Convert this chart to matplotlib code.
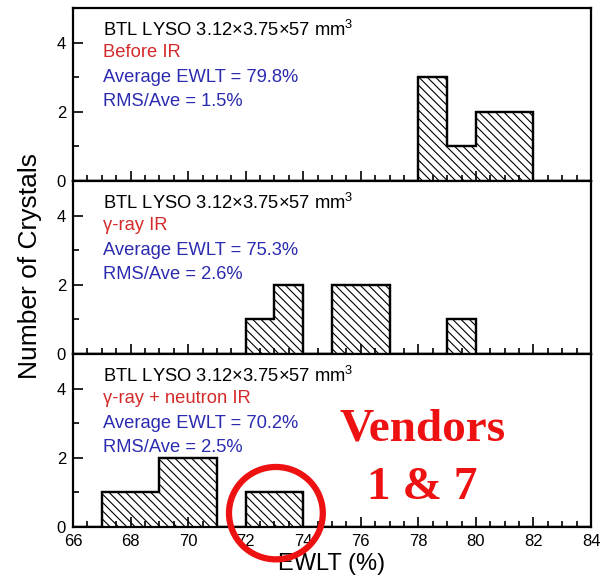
import matplotlib.pyplot as plt
from matplotlib.patches import Ellipse
from matplotlib.ticker import MultipleLocator

plt.rcParams['font.family'] = ['Liberation Sans', 'DejaVu Sans']
plt.rcParams['mathtext.fontset'] = 'custom'
plt.rcParams['mathtext.rm'] = 'Liberation Sans'
plt.rcParams['hatch.linewidth'] = 0.8

# 1% bins of EWLT, 66..84
edges = list(range(66, 85))
before_ir = [0, 0, 0, 0, 0, 0, 0, 0, 0, 0, 0, 0, 3, 1, 2, 2, 0, 0]
gamma_ir = [0, 0, 0, 0, 0, 0, 1, 2, 0, 2, 2, 0, 0, 1, 0, 0, 0, 0]
gamma_n_ir = [0, 1, 1, 2, 2, 0, 1, 1, 0, 0, 0, 0, 0, 0, 0, 0, 0, 0]

title = 'BTL LYSO 3.12\u00d73.75\u00d757 mm$^3$'
conditions = ['Before IR', '\u03b3-ray IR', '\u03b3-ray + neutron IR']
averages = [79.8, 75.3, 70.2]
rms = [1.5, 2.6, 2.5]
series = [before_ir, gamma_ir, gamma_n_ir]

red = '#d42a2a'
blue = '#2b2bb0'

fig, axes = plt.subplots(3, 1, figsize=(6.05, 5.84), dpi=100, sharex=True)
fig.subplots_adjust(left=0.1207, right=0.9769, top=0.9863, bottom=0.0976, hspace=0)

for ax, counts, cond, ave, r in zip(axes, series, conditions, averages, rms):
    ax.stairs(counts, edges, fill=True, facecolor='white', edgecolor='black',
              hatch='\\\\\\\\', linewidth=1.6)
    ax.stairs(counts, edges, fill=False, color='black', linewidth=1.6)
    ax.set_xlim(66, 84)
    ax.set_ylim(0, 5)
    ax.xaxis.set_major_locator(MultipleLocator(2))
    ax.xaxis.set_minor_locator(MultipleLocator(0.5))
    ax.yaxis.set_major_locator(MultipleLocator(2))
    ax.yaxis.set_minor_locator(MultipleLocator(1))
    ax.tick_params(which='both', direction='in', width=1.2, labelsize=12)
    ax.tick_params(which='major', length=7, pad=5)
    ax.tick_params(which='minor', length=4)
    for s in ax.spines.values():
        s.set_linewidth(1.6)
    kw = dict(transform=ax.transAxes, va='center', ha='left', fontsize=13.2)
    ax.text(0.058, 0.873, title, color='black', **kw)
    ax.text(0.058, 0.740, cond, color=red, **kw)
    ax.text(0.058, 0.601, f'Average EWLT = {ave}%', color=blue, **kw)
    ax.text(0.058, 0.457, f'RMS/Ave = {r}%', color=blue, **kw)

axes[2].set_xlabel('EWLT (%)', fontsize=17, labelpad=3)
fig.text(0.05, 0.545, 'Number of Crystals', rotation=90, va='center', ha='center', fontsize=19)

# highlight the 72-74 bin in the last panel
bot = axes[2]
bot.add_patch(Ellipse((73.05, 0.4), 3.26, 2.67, fill=False, edgecolor='#ee1111',
                      linewidth=4.5, clip_on=False, zorder=5))
bot.text(78.15, 2.81, 'Vendors', color='#ee1111', fontsize=34, fontweight='bold',
         family='Liberation Serif', ha='center', va='center')
bot.text(78.15, 1.13, '1 & 7', color='#ee1111', fontsize=34, fontweight='bold',
         family='Liberation Serif', ha='center', va='center')

fig.savefig('out.png', dpi=100)
